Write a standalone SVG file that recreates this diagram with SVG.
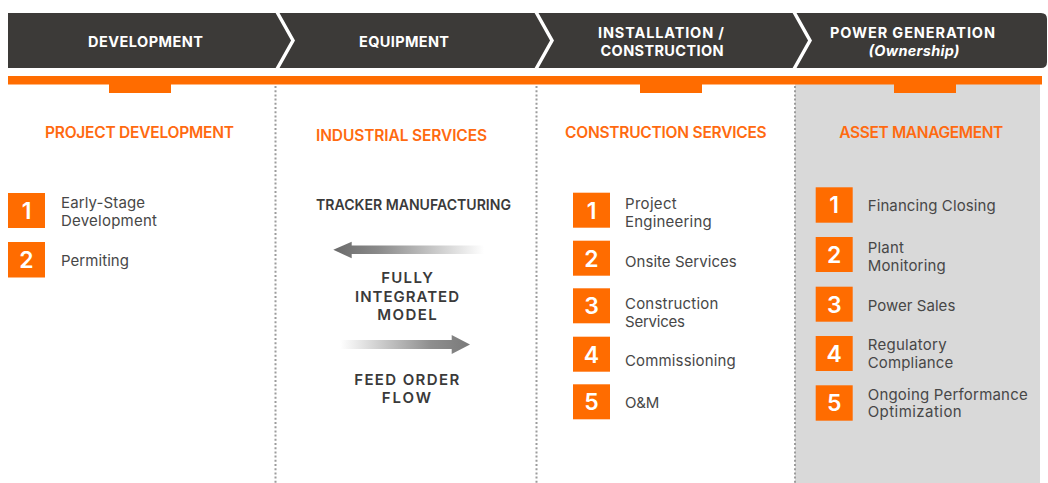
<svg xmlns="http://www.w3.org/2000/svg" width="1048" height="483" viewBox="0 0 1048 483">
<style>
.hdr{font-family:Inter,"Liberation Sans",sans-serif;font-weight:700;font-size:14.5px;fill:#ffffff;text-anchor:middle}
.ttl{font-family:Inter,"Liberation Sans",sans-serif;font-weight:600;font-size:15.5px;fill:#ff6a10}
.num{font-family:Inter,"Liberation Sans",sans-serif;font-weight:600;font-size:23px;fill:#ffffff;text-anchor:middle}
.itm{font-family:Inter,"Liberation Sans",sans-serif;font-weight:400;font-size:15px;fill:#474747}
.mid{font-family:Inter,"Liberation Sans",sans-serif;font-weight:600;font-size:15px;fill:#3a3a3a;text-anchor:middle}
.box{fill:#ff6c00}
.tab{fill:#ff6c00}
.div{stroke:#9c9c9c;stroke-width:2;stroke-dasharray:2 2.2;fill:none}
.chev{stroke:#ffffff;stroke-width:3.5;fill:none;stroke-linejoin:miter}
</style>
<defs>
<linearGradient id="gl" x1="333" y1="0" x2="484" y2="0" gradientUnits="userSpaceOnUse">
<stop offset="0" stop-color="#6a6a6a"/>
<stop offset="0.3" stop-color="#8a8a8a"/>
<stop offset="1" stop-color="#ffffff"/>
</linearGradient>
<linearGradient id="gr" x1="340" y1="0" x2="470" y2="0" gradientUnits="userSpaceOnUse">
<stop offset="0" stop-color="#ffffff"/>
<stop offset="0.7" stop-color="#8e8e8e"/>
<stop offset="1" stop-color="#7a7a7a"/>
</linearGradient>
</defs>
<rect x="0" y="0" width="1048" height="483" fill="#ffffff"/>
<rect x="795" y="84" width="245" height="399" fill="#d9d9d9"/>
<g id="header">
<path d="M8 13 H1041 Q1047 13 1047 19 V62 Q1047 68 1041 68 H8 Z" fill="#3c3a38"/>
<polyline class="chev" points="277,12 293,40.5 277,69"/>
<polyline class="chev" points="536,12 552,40.5 536,69"/>
<polyline class="chev" points="794,12 810,40.5 794,69"/>
<text class="hdr" x="145.5" y="46.5" textLength="115" lengthAdjust="spacing">DEVELOPMENT</text>
<text class="hdr" x="404" y="46.5" textLength="90" lengthAdjust="spacing">EQUIPMENT</text>
<text class="hdr" x="661" y="37.5" textLength="126" lengthAdjust="spacing">INSTALLATION /</text>
<text class="hdr" x="662" y="55.5" textLength="123" lengthAdjust="spacing">CONSTRUCTION</text>
<text class="hdr" x="912.5" y="37.5" textLength="165" lengthAdjust="spacing">POWER GENERATION</text>
<text class="hdr" x="914" y="55.5" font-style="italic" font-weight="600" textLength="91" lengthAdjust="spacing">(Ownership)</text>
</g>
<g id="timeline-bar">
<rect x="8" y="76" width="1034" height="8.5" fill="#ff6c00"/>
<rect class="tab" x="109" y="84" width="62" height="9"/>
<rect class="tab" x="640" y="84" width="62" height="9"/>
<rect class="tab" x="894" y="84" width="62" height="9"/>
</g>
<g id="dividers">
<line class="div" x1="275.5" y1="86" x2="275.5" y2="483"/>
<line class="div" x1="536.5" y1="86" x2="536.5" y2="483"/>
<line class="div" x1="795" y1="86" x2="795" y2="483"/>
</g>
<g id="project-development">
<text class="ttl" x="45" y="138.3" textLength="189" lengthAdjust="spacing">PROJECT DEVELOPMENT</text>
<rect class="box" x="8" y="193" width="37" height="35"/>
<text class="num" x="26.5" y="219">1</text>
<text class="itm" x="61" y="208.3" textLength="84" lengthAdjust="spacing">Early-Stage</text>
<text class="itm" x="61" y="226" textLength="96" lengthAdjust="spacing">Development</text>
<rect class="box" x="8" y="242" width="37" height="35.5"/>
<text class="num" x="26.5" y="268">2</text>
<text class="itm" x="61" y="266" textLength="68" lengthAdjust="spacing">Permiting</text>
</g>
<g id="industrial-services">
<text class="ttl" x="316" y="141" textLength="171" lengthAdjust="spacing">INDUSTRIAL SERVICES</text>
<text class="mid" x="413.5" y="210" font-size="13.5" textLength="195" lengthAdjust="spacingAndGlyphs">TRACKER MANUFACTURING</text>
<text class="mid" x="407" y="283.3" textLength="51.7" lengthAdjust="spacing">FULLY</text>
<text class="mid" x="407" y="301.7" textLength="104" lengthAdjust="spacing">INTEGRATED</text>
<text class="mid" x="407" y="320" textLength="59.4" lengthAdjust="spacing">MODEL</text>
<text class="mid" x="406.7" y="385" textLength="105" lengthAdjust="spacing">FEED ORDER</text>
<text class="mid" x="406.4" y="402.7" textLength="49.3" lengthAdjust="spacing">FLOW</text>
</g>
<g id="connectors">
<path d="M333.3 249.8 L351.7 241.7 L351.7 245.6 L484 245.6 L484 254 L351.7 254 L351.7 258.3 Z" fill="url(#gl)"/>
<path d="M470 344.5 L451.7 335 L451.7 340 L340 340 L340 349 L451.7 349 L451.7 354 Z" fill="url(#gr)"/>
</g>
<g id="construction-services">
<text class="ttl" x="565" y="138.3" textLength="201.7" lengthAdjust="spacing">CONSTRUCTION SERVICES</text>
<rect class="box" x="573" y="192.7" width="37" height="35"/>
<text class="num" x="591.5" y="218.7">1</text>
<text class="itm" x="625" y="209.3" textLength="51.7" lengthAdjust="spacing">Project</text>
<text class="itm" x="625" y="226.7" textLength="86.7" lengthAdjust="spacing">Engineering</text>
<rect class="box" x="573" y="240.7" width="37" height="35"/>
<text class="num" x="591.5" y="266.7">2</text>
<text class="itm" x="625" y="266.7" textLength="111.7" lengthAdjust="spacing">Onsite Services</text>
<rect class="box" x="573" y="288.3" width="37" height="35"/>
<text class="num" x="591.5" y="314.3">3</text>
<text class="itm" x="625" y="309.3" textLength="93.3" lengthAdjust="spacing">Construction</text>
<text class="itm" x="625" y="326.7" textLength="60" lengthAdjust="spacing">Services</text>
<rect class="box" x="573" y="336.7" width="37" height="35"/>
<text class="num" x="591.5" y="362.7">4</text>
<text class="itm" x="625" y="366" textLength="110.7" lengthAdjust="spacing">Commissioning</text>
<rect class="box" x="573" y="384.3" width="37" height="35"/>
<text class="num" x="591.5" y="410.3">5</text>
<text class="itm" x="625" y="408.3" textLength="34.3" lengthAdjust="spacing">O&amp;M</text>
</g>
<g id="asset-management">
<text class="ttl" x="839.3" y="137.7" textLength="164" lengthAdjust="spacing">ASSET MANAGEMENT</text>
<rect class="box" x="815.7" y="187.3" width="37" height="35.4"/>
<text class="num" x="834.2" y="213.3">1</text>
<text class="itm" x="867.7" y="210.7" textLength="128" lengthAdjust="spacing">Financing Closing</text>
<rect class="box" x="815.7" y="237" width="37" height="35"/>
<text class="num" x="834.2" y="263">2</text>
<text class="itm" x="867.7" y="252.7" textLength="36.3" lengthAdjust="spacing">Plant</text>
<text class="itm" x="867.7" y="270.7" textLength="78" lengthAdjust="spacing">Monitoring</text>
<rect class="box" x="815.7" y="286.7" width="37" height="35"/>
<text class="num" x="834.2" y="312.7">3</text>
<text class="itm" x="867.7" y="310.7" textLength="87.6" lengthAdjust="spacing">Power Sales</text>
<rect class="box" x="815.7" y="336" width="37" height="35"/>
<text class="num" x="834.2" y="362">4</text>
<text class="itm" x="867.7" y="350" textLength="79" lengthAdjust="spacing">Regulatory</text>
<text class="itm" x="867.7" y="367.7" textLength="85.6" lengthAdjust="spacing">Compliance</text>
<rect class="box" x="815.7" y="385.3" width="37" height="35.4"/>
<text class="num" x="834.2" y="411.3">5</text>
<text class="itm" x="867.7" y="400" textLength="160" lengthAdjust="spacing">Ongoing Performance</text>
<text class="itm" x="867.7" y="417.3" textLength="94" lengthAdjust="spacing">Optimization</text>
</g>
</svg>
